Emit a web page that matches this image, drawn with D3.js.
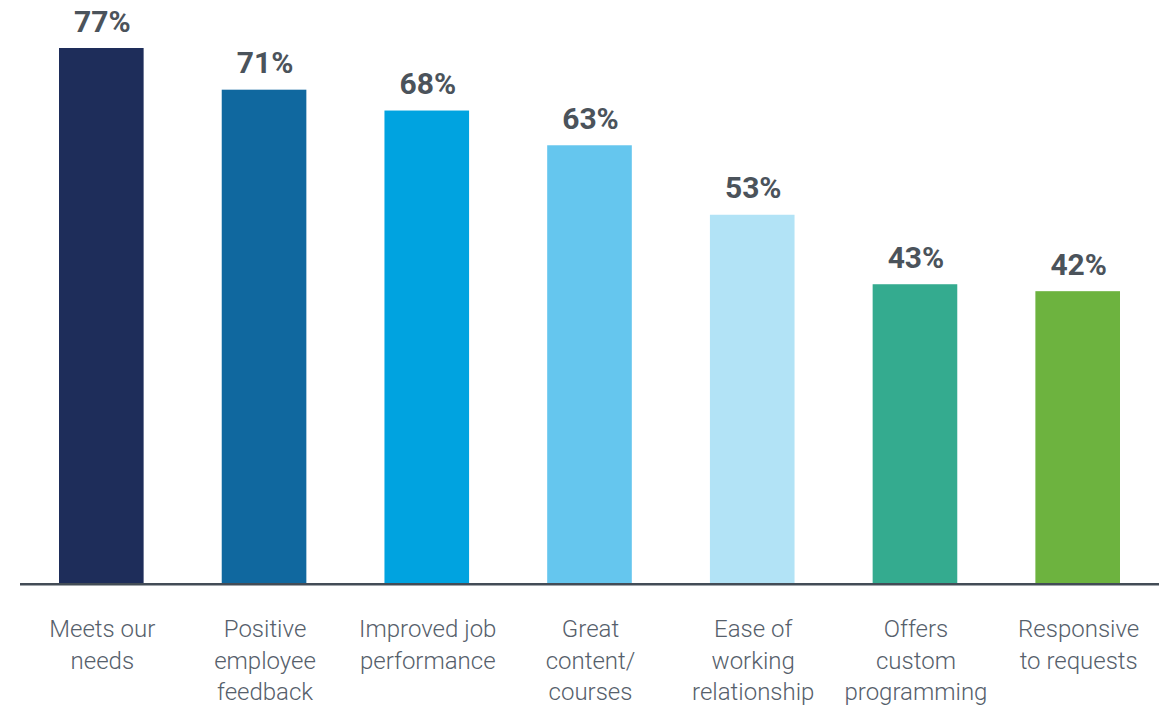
<!DOCTYPE html>
<html>
<head>
<meta charset="utf-8">
<script src="https://cdn.jsdelivr.net/npm/d3@7"></script>
<style>
  body { margin: 0; background: #fff; }
  svg { display: block; }
</style>
</head>
<body>
<div id="chart"></div>
<script>
const categories = [
    ['Meets our', 'needs'],
    ['Positive', 'employee', 'feedback'],
    ['Improved job', 'performance'],
    ['Great', 'content/', 'courses'],
    ['Ease of', 'working', 'relationship'],
    ['Offers', 'custom', 'programming'],
    ['Responsive', 'to requests']
];
const values = [77, 71, 68, 63, 53, 43, 42];
const colors = ['#1e2d5a', '#10689f', '#00a3e0', '#65c6ee', '#b2e3f6', '#34ab8f', '#6db33f'];

const width = 1167, height = 707;
const baseline = 583;

const svg = d3.select('#chart').append('svg')
    .attr('width', width)
    .attr('height', height);

const x = d3.scaleBand()
    .domain(d3.range(values.length))
    .range([59, 1120])
    .paddingInner(0.48)
    .paddingOuter(0);

const y = d3.scaleLinear()
    .domain([0, 77])
    .range([baseline, 48]);

/* Bars */
svg.append('g').selectAll('rect')
    .data(values)
    .join('rect')
    .attr('x', (d, i) => x(i))
    .attr('y', d => y(d))
    .attr('width', x.bandwidth())
    .attr('height', d => baseline - y(d))
    .attr('fill', (d, i) => colors[i]);

/* Value labels */
svg.append('g').selectAll('text')
    .data(values)
    .join('text')
    .attr('x', (d, i) => x(i) + x.bandwidth() / 2 + 1)
    .attr('y', d => y(d) - 16.5)
    .attr('text-anchor', 'middle')
    .attr('font-family', 'Roboto, sans-serif')
    .attr('font-weight', 700)
    .attr('font-size', 30)
    .attr('fill', '#4b535b')
    .text(d => d + '%');

/* Axis line */
svg.append('line')
    .attr('x1', 20)
    .attr('x2', 1159)
    .attr('y1', baseline + 1.2)
    .attr('y2', baseline + 1.2)
    .attr('stroke', '#434c56')
    .attr('stroke-width', 2.6);

/* Category labels */
const labels = svg.append('g').selectAll('text')
    .data(categories)
    .join('text')
    .attr('x', (d, i) => x(i) + x.bandwidth() / 2 + 1)
    .attr('y', 637)
    .attr('text-anchor', 'middle')
    .attr('font-family', 'Roboto, sans-serif')
    .attr('font-weight', 300)
    .attr('font-size', 24)
    .attr('fill', '#56606b');

labels.selectAll('tspan')
    .data(d => d)
    .join('tspan')
    .attr('x', function() { return this.parentNode.getAttribute('x'); })
    .attr('dy', (d, i) => i === 0 ? 0 : 31.5)
    .text(d => d);
</script>
</body>
</html>
